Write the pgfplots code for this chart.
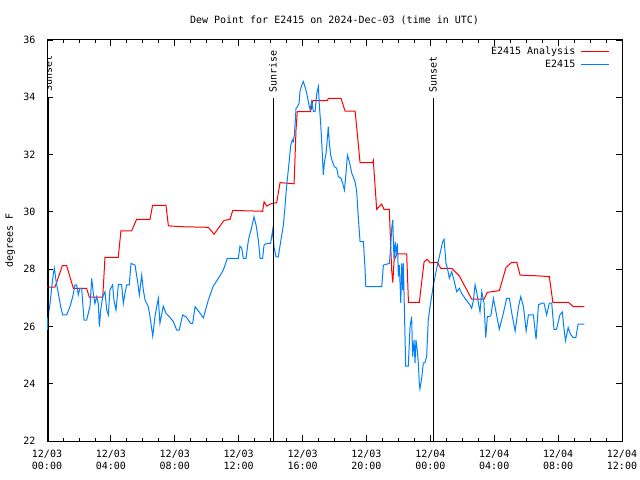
\documentclass[border=0pt]{standalone}
\usepackage{pgfplots}
\pgfplotsset{compat=1.18}
\usepackage{fontspec}
\setmainfont{DejaVu Sans Mono}
\definecolor{dred}{RGB}{255,0,0}
\definecolor{dblue}{RGB}{0,128,255}
\begin{document}%
\fontsize{10bp}{12bp}\selectfont%
\begin{tikzpicture}
\path[use as bounding box] (-47bp,-39bp) rectangle (593bp,441bp);
\begin{axis}[
  at={(0,0)}, anchor=south west,
  scale only axis, width=575bp, height=401bp,
  xmin=0, xmax=36, ymin=22, ymax=36,
  xtick={0,4,...,36},
  xticklabels={12/03\\00:00,12/03\\04:00,12/03\\08:00,12/03\\12:00,12/03\\16:00,12/03\\20:00,12/04\\00:00,12/04\\04:00,12/04\\08:00,12/04\\12:00},
  xticklabel style={align=center, yshift=-6bp},
  minor x tick num=3,
  ytick={22,24,...,36},
  yticklabel style={xshift=-8bp},
  tick align=inside,
  major tick length=6bp, minor tick length=3bp,
  tick style={black, line width=0.8bp},
  axis line style={line width=1bp},
  /pgf/number format/assume math mode=true,
  title={Dew Point for E2415 on 2024-Dec-03 (time in UTC)},
  title style={at={(axis description cs:0.5,1)}, anchor=base, yshift=11bp},
  ylabel={degrees F},
  ylabel style={at={(axis description cs:-0.0643,0.5)}, anchor=center},
  legend style={draw=none, fill=none, at={(axis description cs:1,1)}, anchor=north east, xshift=-12bp, yshift=-5bp, inner sep=0pt, row sep=1bp, nodes={inner sep=1.5bp}},
  legend cell align=right,
  legend plot pos=right,
  legend image code/.code={\draw[#1, line width=1bp] (0bp,0bp) -- (28bp,0bp);},
  /tikz/every odd column/.append style={column sep=4bp},
]
\addplot[dred, line width=1bp] coordinates {
(0,27.37) (0.5,27.37) (0.96,28.12) (1.23,28.12) (1.65,27.33) (2.48,27.33) (2.65,27.02) (3.49,27.02)
(3.63,28.41) (4.46,28.41) (4.63,29.34) (5.30,29.34) (5.61,29.74) (6.45,29.74) (6.61,30.23) (7.45,30.23)
(7.60,29.51) (8.53,29.48) (10.10,29.46) (10.46,29.22) (11.08,29.70) (11.46,29.74) (11.63,30.05) (13.50,30.02)
(13.59,30.35) (13.76,30.2) (14.0,30.28) (14.38,30.32) (14.59,31.02) (15.47,30.98) (15.59,32.86) (15.67,33.5)
(16.51,33.5) (16.64,33.88) (17.55,33.88) (17.62,33.96) (18.41,33.96) (18.66,33.52) (19.29,33.52) (19.6,31.72)
(20.39,31.72) (20.43,31.8) (20.64,30.09) (20.96,30.27) (21.1,30.09) (21.43,30.09) (21.58,27.97) (21.65,27.53)
(21.73,28.3) (21.9,28.53) (22.52,28.53) (22.63,26.84) (23.31,26.84) (23.61,28.26) (23.81,28.34) (23.98,28.22)
(24.44,28.24) (24.65,28.03) (25.34,28.03) (25.82,27.76) (26.59,26.95) (27.36,26.95) (27.57,27.19) (28.32,27.25)
(28.74,28.06) (29.1,28.24) (29.41,28.24) (29.62,27.79) (30.56,27.77) (31.45,27.74) (31.67,26.84) (32.64,26.84)
(32.96,26.69) (33.64,26.69)
};
\addlegendentry{E2415 Analysis}
\addplot[dblue, line width=1bp] coordinates {
(0,26.3) (0.05,25.87) (0.1,26.45) (0.19,26.8) (0.29,27.33) (0.40,27.85) (0.46,28.03) (0.56,27.62)
(0.71,27.15) (0.86,26.69) (0.98,26.4) (1.23,26.4) (1.44,26.69) (1.61,27.04) (1.75,27.45) (1.86,27.45)
(1.96,27.1) (2.06,27.33) (2.17,27.33) (2.27,26.57) (2.32,26.22) (2.48,26.22) (2.69,26.69) (2.8,27.68)
(2.9,27.15) (3.0,26.8) (3.11,27.04) (3.21,26.8) (3.28,25.99) (3.36,26.57) (3.49,27.04) (3.63,27.21)
(3.74,26.57) (3.84,26.4) (3.94,27.27) (4.11,27.45) (4.19,26.92) (4.32,26.57) (4.47,27.47) (4.67,27.47)
(4.78,26.8) (4.88,27.15) (4.99,27.45) (5.15,27.45) (5.26,28.2) (5.51,28.14) (5.66,27.62) (5.78,27.1)
(5.93,27.79) (6.03,27.27) (6.14,26.92) (6.34,26.69) (6.45,26.34) (6.62,25.66) (6.76,26.34) (6.87,26.69)
(6.97,26.98) (7.07,26.11) (7.28,26.71) (7.45,26.46) (7.66,26.34) (7.91,26.17) (8.12,25.87) (8.28,25.87)
(8.49,26.4) (8.7,26.34) (8.99,26.11) (9.12,26.11) (9.27,26.69) (9.47,26.55) (9.79,26.3) (10.1,26.92)
(10.41,27.41) (10.73,27.68) (11.04,27.97) (11.29,28.38) (11.98,28.38) (12.08,28.8) (12.19,28.73) (12.29,28.38)
(12.46,28.38) (12.61,29.02) (12.82,29.48) (12.96,29.83) (13.09,29.54) (13.23,29.02) (13.34,28.38) (13.5,28.38)
(13.59,28.84) (13.76,28.9) (14.0,28.9) (14.13,29.37) (14.21,28.78) (14.34,28.43) (14.48,28.43) (14.63,28.96)
(14.8,29.54) (14.9,30.18) (15.0,30.88) (15.15,31.69) (15.26,32.33) (15.36,32.51) (15.42,32.45) (15.49,32.68)
(15.59,33.61) (15.68,33.67) (15.78,33.79) (15.84,34.2) (15.95,34.43) (16.05,34.55) (16.15,34.37) (16.26,34.14)
(16.36,33.85) (16.47,33.56) (16.57,33.85) (16.68,33.5) (16.78,33.5) (16.89,34.14) (16.99,34.37) (17.05,33.73)
(17.14,33.03) (17.22,32.22) (17.3,31.29) (17.36,31.69) (17.47,32.04) (17.57,32.68) (17.61,32.97) (17.68,32.39)
(17.76,31.98) (17.87,31.75) (17.99,31.58) (18.14,31.52) (18.24,31.23) (18.41,31.17) (18.51,31.0) (18.62,30.76)
(18.72,31.35) (18.81,31.98) (18.93,31.75) (19.08,31.35) (19.29,31.05) (19.39,30.7) (19.5,29.72) (19.6,28.96)
(19.81,28.96) (19.91,28.03) (19.96,27.39) (20.96,27.39) (21.06,28.14) (21.44,28.2) (21.52,28.84) (21.59,29.48)
(21.65,29.72) (21.69,28.9) (21.73,28.32) (21.8,28.96) (21.86,28.55) (21.94,28.9) (22.0,27.74) (22.06,28.14)
(22.15,26.81) (22.21,28.2) (22.27,27.27) (22.31,28.2) (22.42,25.52) (22.46,24.61) (22.62,24.61) (22.73,26.0)
(22.83,26.34) (22.89,24.95) (22.98,25.52) (23.04,24.73) (23.1,25.52) (23.18,25.18) (23.25,24.7) (23.31,24.0)
(23.35,23.82) (23.46,24.2) (23.56,24.73) (23.66,24.73) (23.77,24.95) (23.87,26.22) (23.98,26.69) (24.08,27.04)
(24.19,27.45) (24.4,28.03) (24.61,28.55) (24.77,28.96) (24.86,29.04) (24.98,28.2) (25.07,28.03) (25.19,27.68)
(25.34,27.91) (25.48,27.62) (25.65,27.21) (25.81,27.33) (25.96,27.16) (26.17,26.98) (26.48,26.75) (26.59,26.63)
(26.7,26.93) (26.8,27.45) (26.9,27.21) (27.01,26.81) (27.11,26.51) (27.22,27.21) (27.36,26.81) (27.47,25.61)
(27.57,26.34) (27.7,26.34) (27.8,26.4) (27.95,26.98) (28.11,26.51) (28.32,25.9) (28.57,26.46) (28.78,26.98)
(28.95,26.98) (29.1,26.46) (29.31,25.84) (29.52,26.69) (29.66,27.04) (29.83,26.69) (30.0,25.84) (30.14,26.4)
(30.45,26.4) (30.62,25.55) (30.77,26.75) (30.97,26.81) (31.12,26.81) (31.28,26.4) (31.45,26.81) (31.6,26.81)
(31.74,25.9) (31.9,25.9) (32.11,26.4) (32.26,26.51) (32.36,25.96) (32.46,25.5) (32.63,25.96) (32.77,25.73)
(32.94,25.61) (33.11,25.61) (33.25,26.08) (33.64,26.08)
};
\addlegendentry{E2415}
\addplot[black, line width=1bp, forget plot] coordinates {(0.08,22) (0.08,33.98)};
\addplot[black, line width=1bp, forget plot] coordinates {(14.15,22) (14.15,33.98)};
\addplot[black, line width=1bp, forget plot] coordinates {(24.17,22) (24.17,33.98)};
\node[rotate=90, anchor=west, inner sep=0pt, xshift=1bp] at (axis cs:0.08,34.15) {Sunset};
\node[rotate=90, anchor=west, inner sep=0pt] at (axis cs:14.15,34.15) {Sunrise};
\node[rotate=90, anchor=west, inner sep=0pt] at (axis cs:24.17,34.15) {Sunset};
\end{axis}
\end{tikzpicture}%
\end{document}
